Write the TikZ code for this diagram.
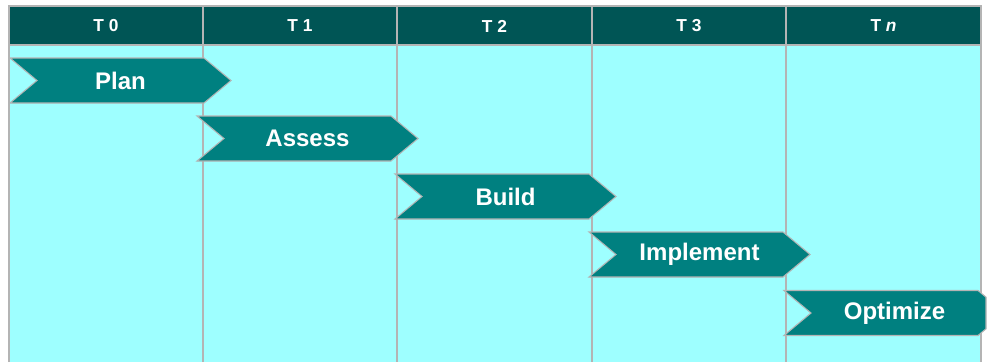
\documentclass[tikz,border=0pt]{standalone}
\usepackage{xcolor}
\usepackage{tikz}
\usepackage{fontspec}
\setmainfont{Liberation Sans}

\definecolor{hdrteal}{RGB}{0,85,85}
\definecolor{phaseteal}{RGB}{0,128,128}
\definecolor{bodycyan}{RGB}{158,255,255}
\definecolor{gridgray}{RGB}{180,180,180}

\tikzset{
  phasebox/.style={fill=phaseteal, draw=gridgray, line width=0.8pt},
  phaselabel/.style={text=white, font=\fontsize{18}{20}\selectfont\bfseries, inner sep=0.75pt},
  hdrlabel/.style={text=white, font=\fontsize{13}{15}\selectfont\bfseries, inner sep=0.75pt}
}

\begin{document}
\begin{tikzpicture}[x=0.75pt,y=0.75pt,yscale=-1,xscale=1]

\useasboundingbox (0,0) rectangle (989,362);
\fill [white] (0,0) rectangle (989,362);

% table
\fill [bodycyan] (9,45) rectangle (981,362);
\fill [hdrteal] (9,6) rectangle (981,45);

\draw [gridgray, line width=1pt] (9,362) -- (9,6) -- (981,6) -- (981,362);
\draw [gridgray, line width=1pt] (9,45) -- (981,45);
\draw [gridgray, line width=0.8pt] (203,6) -- (203,362);
\draw [gridgray, line width=0.8pt] (397,6) -- (397,362);
\draw [gridgray, line width=0.8pt] (592,6) -- (592,362);
\draw [gridgray, line width=0.8pt] (786,6) -- (786,362);

% headers
\draw (106,26) node [hdrlabel] (t0) {T 0};

\draw (300,26) node [hdrlabel] (t1) {T 1};

\draw (494.5,26) node [hdrlabel] (t2) {T 2};

\draw (689,26) node [hdrlabel] (t3) {T 3};

\draw (883.5,26) node [hdrlabel] (tn) {T \textit{n}};

% phases
\draw [phasebox] (10,58) -- (204,58) -- (231,80.5) -- (204,103) -- (10,103) -- (37,80.5) -- cycle ;

\draw (120.5,80.5) node [phaselabel] (plan) {Plan};

\draw [phasebox] (197,116) -- (391,116) -- (418,138.5) -- (391,161) -- (197,161) -- (224,138.5) -- cycle ;

\draw (307.5,138.5) node [phaselabel] (assess) {Assess};

\draw [phasebox] (395,174) -- (589,174) -- (616,196.5) -- (589,219) -- (395,219) -- (422,196.5) -- cycle ;

\draw (505.5,196.5) node [phaselabel] (build) {Build};

\draw [phasebox] (589,232) -- (783,232) -- (810,254.5) -- (783,277) -- (589,277) -- (616,254.5) -- cycle ;

\draw (699.5,254.5) node [phaselabel] (implement) {Implement};

\draw [phasebox] (784,290.5) -- (978,290.5) -- (986,297.2) -- (986,328.8) -- (978,335.5) -- (784,335.5) -- (811,313) -- cycle ;

\draw (894.5,313) node [phaselabel] (optimize) {Optimize};

\end{tikzpicture}
\end{document}
